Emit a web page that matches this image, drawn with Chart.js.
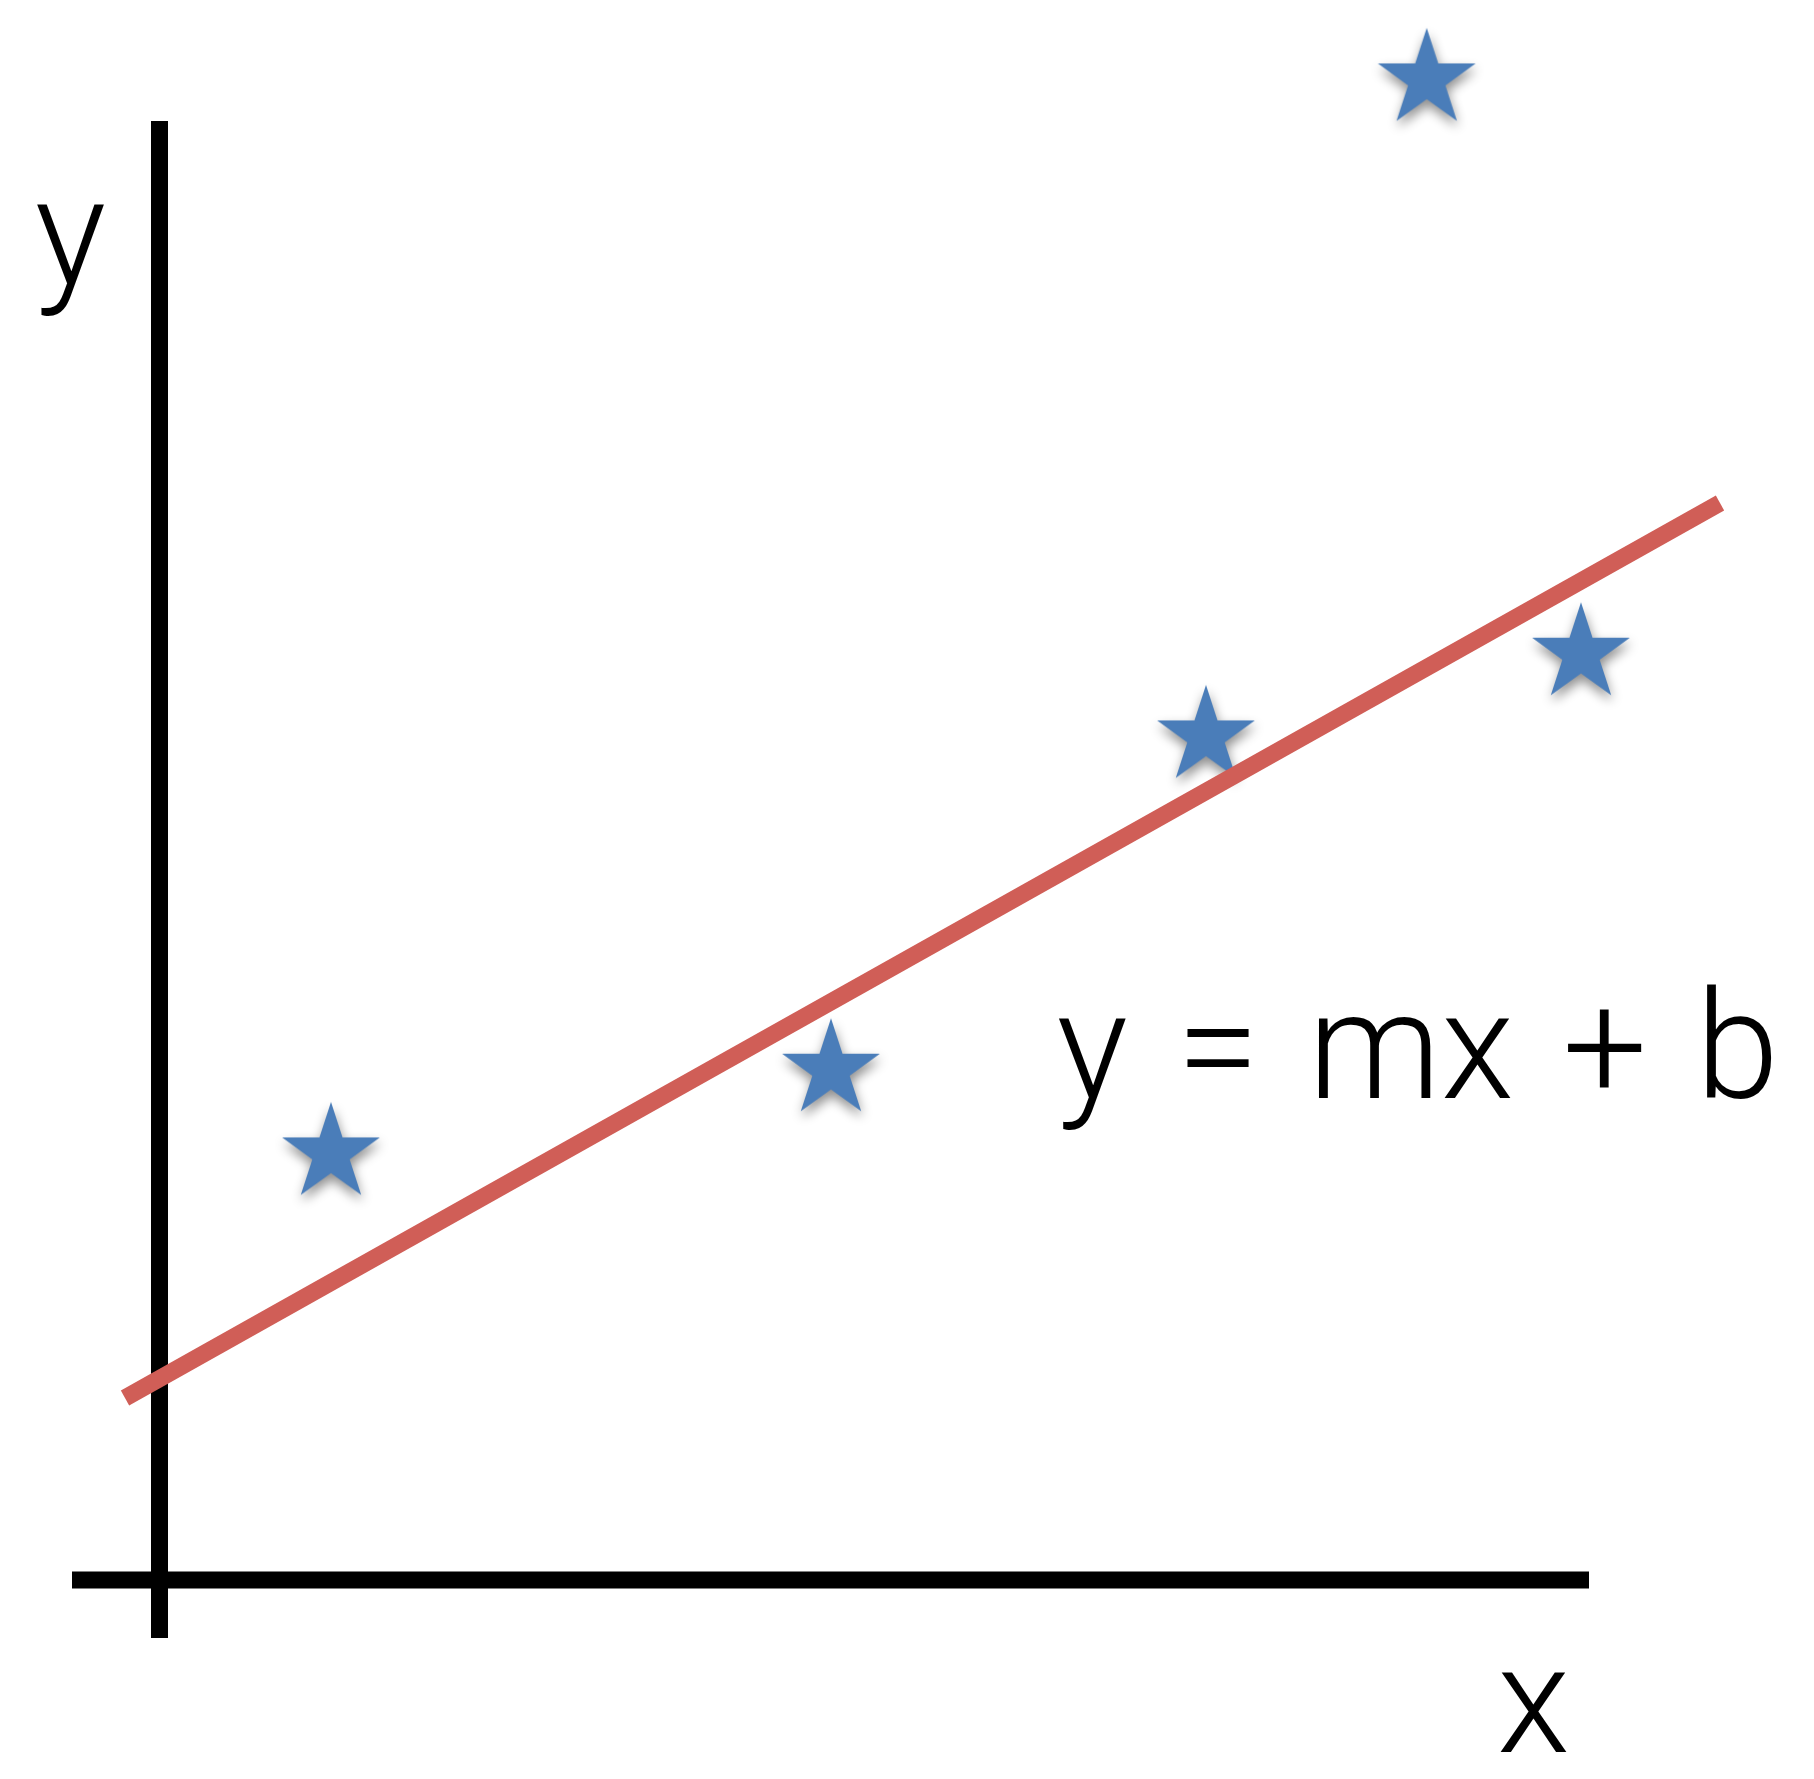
<!DOCTYPE html>
<html>
<head>
<meta charset="utf-8">
<script src="https://cdn.jsdelivr.net/npm/chart.js@4/dist/chart.umd.min.js"></script>
<style>
  html, body { margin: 0; padding: 0; background: #ffffff; overflow: hidden; }
  #wrap { width: 1814px; height: 1779px; }
</style>
</head>
<body>
<div id="wrap"><canvas id="c" width="1814" height="1779"></canvas></div>
<script>
// ---- data (units: origin of the drawn axes = 0,0) ----
const starX = [1.715, 6.715, 10.465, 12.672, 14.215];
const starY = [4.266, 5.103, 8.436, 15.006, 9.263];

const fitX = [-0.345, 15.605];
const fitY = [1.82, 10.77];

const yAxisX = [0, 0];
const yAxisY = [14.59, -0.58];
const xAxisX = [-0.875, 14.295];
const xAxisY = [0, 0];

const yLabel = 'y';
const xLabel = 'x';
const equation = 'y = mx + b';

// ---- star marker image ----
function makeStar(R, color) {
  const size = 150;
  const c = document.createElement('canvas');
  c.width = size; c.height = size;
  const g = c.getContext('2d');
  const cx = size / 2, cy = size / 2, r = R * 0.382;
  g.beginPath();
  for (let i = 0; i < 10; i++) {
    const rad = i % 2 === 0 ? R : r;
    const a = -Math.PI / 2 + i * Math.PI / 5;
    const px = cx + rad * Math.cos(a), py = cy + rad * Math.sin(a);
    if (i === 0) g.moveTo(px, py); else g.lineTo(px, py);
  }
  g.closePath();
  g.shadowColor = 'rgba(0,0,0,0.45)';
  g.shadowBlur = 12;
  g.shadowOffsetX = 1;
  g.shadowOffsetY = 6;
  g.fillStyle = color;
  g.fill();
  return c;
}
const starImg = makeStar(51.4, '#4a7db9');

const zip = (xs, ys) => xs.map((x, i) => ({ x, y: ys[i] }));

const textPlugin = {
  id: 'texts',
  afterDatasetsDraw(chart, args, opts) {
    const { ctx, scales } = chart;
    ctx.save();
    ctx.fillStyle = '#000';
    ctx.textBaseline = 'alphabetic';
    opts.items.forEach(t => {
      ctx.font = t.font;
      ctx.textAlign = t.align;
      if ('wordSpacing' in ctx) ctx.wordSpacing = t.wordSpacing || '0px';
      ctx.fillText(t.text, scales.x.getPixelForValue(t.x), scales.y.getPixelForValue(t.y));
    });
    ctx.restore();
  }
};

const FONT = '300 150px Roboto, "Liberation Sans", sans-serif';

new Chart(document.getElementById('c'), {
  type: 'scatter',
  data: {
    datasets: [
      {
        label: 'fit',
        data: zip(fitX, fitY),
        showLine: true,
        borderColor: '#d05e57',
        borderWidth: 17,
        borderCapStyle: 'butt',
        pointRadius: 0,
        order: 0
      },
      {
        label: 'points',
        data: zip(starX, starY),
        showLine: false,
        pointStyle: starImg,
        pointRadius: 50,
        order: 1
      },
      {
        label: 'y axis',
        data: zip(yAxisX, yAxisY),
        showLine: true,
        borderColor: '#000',
        borderWidth: 17,
        borderCapStyle: 'butt',
        pointRadius: 0,
        order: 2
      },
      {
        label: 'x axis',
        data: zip(xAxisX, xAxisY),
        showLine: true,
        borderColor: '#000',
        borderWidth: 17,
        borderCapStyle: 'butt',
        pointRadius: 0,
        order: 2
      }
    ]
  },
  options: {
    responsive: false,
    animation: false,
    devicePixelRatio: 1,
    layout: { padding: 0, autoPadding: false },
    scales: {
      x: { type: 'linear', display: false, min: -1.595, max: 16.545 },
      y: { type: 'linear', display: false, min: -1.99, max: 15.80 }
    },
    plugins: {
      legend: { display: false },
      tooltip: { enabled: false },
      texts: {
        items: [
          { text: yLabel, x: -0.891, y: 12.96, align: 'center', font: FONT },
          { text: xLabel, x: 13.74, y: -1.717, align: 'center', font: FONT },
          { text: equation, x: 8.97, y: 4.823, align: 'left', font: FONT, wordSpacing: '12px' }
        ]
      }
    }
  },
  plugins: [textPlugin]
});
</script>
</body>
</html>
